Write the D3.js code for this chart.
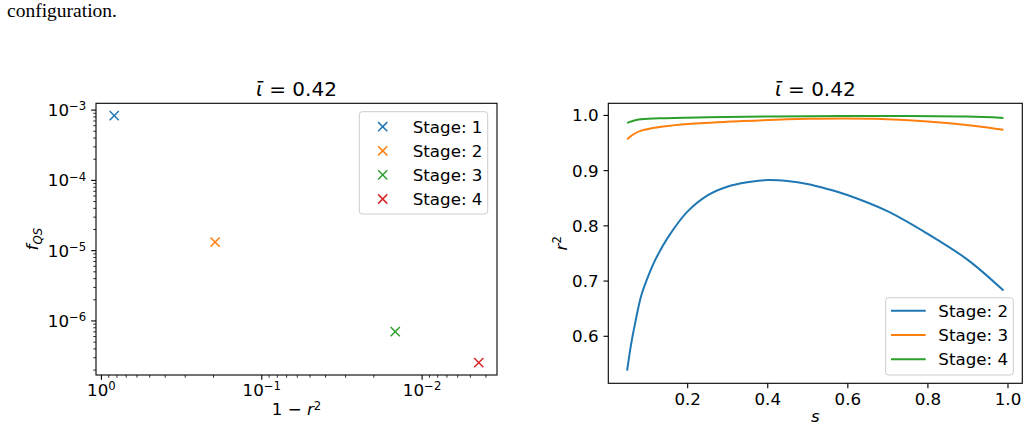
<!DOCTYPE html>
<html>
<head>
<meta charset="utf-8">
<script src="https://cdn.jsdelivr.net/npm/d3@7"></script>
<style>
body { margin: 0; background: #fff; }
svg text { font-family: "DejaVu Sans", sans-serif; fill: #000; }
</style>
</head>
<body>
<svg id="fig" width="1029" height="430"></svg>
<script>
// left panel: one point per stage
var stages = ["1", "2", "3", "4"];
var oneMinusR2 = [0.826, 0.194, 0.0146, 0.0044];
var fQS = [8.2e-4, 1.3e-5, 6.95e-7, 2.51e-7];

// right panel: r^2 against s
var lineStages = ["2", "3", "4"];
var sStage2 = [0.05, 0.06, 0.07, 0.085, 0.1, 0.12, 0.15, 0.2, 0.25, 0.3, 0.35, 0.4, 0.45, 0.5, 0.55, 0.6, 0.7, 0.8, 0.9, 0.99];
var r2Stage2 = [0.537, 0.585, 0.623, 0.672, 0.703, 0.737, 0.776, 0.8245, 0.854, 0.87, 0.878, 0.882, 0.8802, 0.875, 0.866, 0.855, 0.8258, 0.785, 0.738, 0.682];
var sStage3 = [0.05, 0.066, 0.087, 0.13, 0.21, 0.34, 0.5, 0.67, 0.8, 0.92, 0.99];
var r2Stage3 = [0.956, 0.965, 0.972, 0.978, 0.984, 0.989, 0.993, 0.993, 0.988, 0.98, 0.973];
var sStage4 = [0.05, 0.078, 0.13, 0.25, 0.5, 0.75, 0.9, 0.99];
var r2Stage4 = [0.9855, 0.9916, 0.994, 0.9958, 0.9976, 0.998, 0.997, 0.9946];

var xTickVals = [0.2, 0.4, 0.6, 0.8, 1.0];
var yTickVals = [0.6, 0.7, 0.8, 0.9, 1.0];

var svg = d3.select("svg#fig");
var color = d3.scaleOrdinal().domain(stages).range(d3.schemeCategory10);

var FS = 16.7, TICK = 4.86, MINOR = 2.78, PAD = 4.86;

svg.append("text")
    .attr("x", 7)
    .attr("y", 16.5)
    .style("font-family", "'Liberation Serif', serif")
    .style("font-size", "19.5px")
    .text("configuration.");

function pad(ext, log) {
    if (log) {
        var a = Math.log10(ext[0]), b = Math.log10(ext[1]), m = (b - a) * 0.05;
        return [Math.pow(10, a - m), Math.pow(10, b + m)];
    }
    var m2 = (ext[1] - ext[0]) * 0.05;
    return [ext[0] - m2, ext[1] + m2];
}

function isPow(v) {
    var l = Math.log10(v);
    return Math.abs(l - Math.round(l)) < 1e-9;
}

function powText(sel) {
    sel.each(function(d) {
        var e = Math.round(Math.log10(d));
        var t = d3.select(this).text("");
        t.append("tspan").text("10");
        t.append("tspan")
            .attr("dy", "-0.5em")
            .style("font-size", "0.7em")
            .text(e < 0 ? "\u2212" + -e : e);
    });
}

function styleAxis(g) {
    g.select(".domain").remove();
    g.attr("font-size", null).attr("font-family", null);
    g.selectAll("text").style("font-size", FS + "px");
    g.selectAll("line").attr("stroke-width", 1.1);
}

function title(cx, txt) {
    var t = svg.append("text")
        .attr("x", cx)
        .attr("y", 96)
        .attr("text-anchor", "middle")
        .style("font-size", "20px");
    t.append("tspan").style("font-style", "italic").text("\u1FD1");
    t.append("tspan").text(" = " + txt);
}

function legendBox(x0, y0, w, h) {
    svg.append("rect")
        .attr("x", x0)
        .attr("y", y0)
        .attr("width", w)
        .attr("height", h)
        .attr("rx", 3)
        .attr("fill", "white")
        .attr("fill-opacity", 0.8)
        .attr("stroke", "#cccccc")
        .attr("stroke-width", 1);
}

// ---------- left panel ----------
var L = { left: 96, right: 497, top: 103.3, bottom: 375 };

var xL = d3.scaleLog()
    .domain(pad(d3.extent(oneMinusR2), true).reverse())
    .range([L.left, L.right]);
var yL = d3.scaleLog()
    .domain(pad(d3.extent(fQS), true))
    .range([L.bottom, L.top]);

var xLt = xL.ticks(), yLt = yL.ticks();

var gxm = svg.append("g")
    .attr("transform", "translate(0," + L.bottom + ")")
    .call(d3.axisBottom(xL).tickValues(xLt.filter(v => !isPow(v))).tickSize(MINOR).tickFormat(""));
styleAxis(gxm);
gxm.selectAll("line").attr("stroke-width", 0.8);

var gx = svg.append("g")
    .attr("transform", "translate(0," + L.bottom + ")")
    .call(d3.axisBottom(xL).tickValues(xLt.filter(isPow)).tickSize(TICK).tickPadding(PAD));
styleAxis(gx);
gx.selectAll("text").attr("dy", "0.68em").call(powText);

var gym = svg.append("g")
    .attr("transform", "translate(" + L.left + ",0)")
    .call(d3.axisLeft(yL).tickValues(yLt.filter(v => !isPow(v))).tickSize(MINOR).tickFormat(""));
styleAxis(gym);
gym.selectAll("line").attr("stroke-width", 0.8);

var gy = svg.append("g")
    .attr("transform", "translate(" + L.left + ",0)")
    .call(d3.axisLeft(yL).tickValues(yLt.filter(isPow)).tickSize(TICK).tickPadding(PAD));
styleAxis(gy);
gy.selectAll("text").attr("dy", "0.36em").call(powText);

svg.append("rect")
    .attr("x", L.left)
    .attr("y", L.top)
    .attr("width", L.right - L.left)
    .attr("height", L.bottom - L.top)
    .attr("fill", "none")
    .attr("stroke", "black")
    .attr("stroke-width", 1.1);

var cross = "M-4.6,-4.6L4.6,4.6M-4.6,4.6L4.6,-4.6";

svg.append("g")
    .selectAll("path")
    .data(stages)
    .enter()
    .append("path")
    .attr("d", cross)
    .attr("transform", (d, i) => "translate(" + xL(oneMinusR2[i]) + "," + yL(fQS[i]) + ")")
    .attr("stroke", d => color(d))
    .attr("stroke-width", 1.5)
    .attr("fill", "none");

title((L.left + L.right) / 2, "0.42");

var xlab = svg.append("text")
    .attr("x", (L.left + L.right) / 2)
    .attr("y", 415)
    .attr("text-anchor", "middle")
    .style("font-size", FS + "px");
xlab.append("tspan").text("1 \u2212 ");
xlab.append("tspan").style("font-style", "italic").text("r");
xlab.append("tspan").attr("dy", "-0.45em").style("font-size", "0.7em").text("2");

var ylab = svg.append("text")
    .attr("transform", "translate(38," + (L.top + L.bottom) / 2 + ") rotate(-90)")
    .attr("text-anchor", "middle")
    .style("font-size", FS + "px");
ylab.append("tspan").style("font-style", "italic").text("f");
ylab.append("tspan").attr("dy", "0.3em").style("font-size", "0.7em").style("font-style", "italic").text("QS");

legendBox(359.3, 111.7, 128.4, 102.3);
var legL = svg.append("g")
    .selectAll("g")
    .data(stages)
    .enter()
    .append("g")
    .attr("transform", (d, i) => "translate(0," + (126.7 + i * 24.1) + ")");
legL.append("path")
    .attr("d", cross)
    .attr("transform", "translate(382.7,0)")
    .attr("stroke", d => color(d))
    .attr("stroke-width", 1.5)
    .attr("fill", "none");
legL.append("text")
    .attr("x", 412.7)
    .attr("dy", "0.36em")
    .style("font-size", FS + "px")
    .text(d => "Stage: " + d);

// ---------- right panel ----------
var R = { left: 608.3, right: 1022.3, top: 103.3, bottom: 383.3 };

var series = [
    { stage: "2", s: sStage2, r2: r2Stage2 },
    { stage: "3", s: sStage3, r2: r2Stage3 },
    { stage: "4", s: sStage4, r2: r2Stage4 }
];

var allS = sStage2.concat(sStage3, sStage4);
var allR = r2Stage2.concat(r2Stage3, r2Stage4);

var xR = d3.scaleLinear().domain(pad(d3.extent(allS), false)).range([R.left, R.right]);
var yR = d3.scaleLinear().domain(pad(d3.extent(allR), false)).range([R.bottom, R.top]);

var gxR = svg.append("g")
    .attr("transform", "translate(0," + R.bottom + ")")
    .call(d3.axisBottom(xR).tickValues(xTickVals).tickSize(TICK).tickPadding(PAD).tickFormat(d3.format(".1f")));
styleAxis(gxR);
gxR.selectAll("text").attr("dy", "0.74em");

var gyR = svg.append("g")
    .attr("transform", "translate(" + R.left + ",0)")
    .call(d3.axisLeft(yR).tickValues(yTickVals).tickSize(TICK).tickPadding(PAD).tickFormat(d3.format(".1f")));
styleAxis(gyR);
gyR.selectAll("text").attr("dy", "0.36em");

var line = d3.line()
    .x(d => xR(d[0]))
    .y(d => yR(d[1]))
    .curve(d3.curveCatmullRom.alpha(0.5));

svg.append("g")
    .selectAll("path")
    .data(series)
    .enter()
    .append("path")
    .attr("d", d => line(d.s.map((v, i) => [v, d.r2[i]])))
    .attr("fill", "none")
    .attr("stroke", (d, i) => d3.schemeCategory10[i])
    .attr("stroke-width", 2);

svg.append("rect")
    .attr("x", R.left)
    .attr("y", R.top)
    .attr("width", R.right - R.left)
    .attr("height", R.bottom - R.top)
    .attr("fill", "none")
    .attr("stroke", "black")
    .attr("stroke-width", 1.1);

title((R.left + R.right) / 2, "0.42");

svg.append("text")
    .attr("x", (R.left + R.right) / 2)
    .attr("y", 421.5)
    .attr("text-anchor", "middle")
    .style("font-size", FS + "px")
    .style("font-style", "italic")
    .text("s");

var ylabR = svg.append("text")
    .attr("transform", "translate(566.5," + (R.top + R.bottom) / 2 + ") rotate(-90)")
    .attr("text-anchor", "middle")
    .style("font-size", FS + "px");
ylabR.append("tspan").style("font-style", "italic").text("r");
ylabR.append("tspan").attr("dy", "-0.45em").style("font-size", "0.7em").text("2");

legendBox(885.7, 297.7, 127.6, 77.3);
var legR = svg.append("g")
    .selectAll("g")
    .data(lineStages)
    .enter()
    .append("g")
    .attr("transform", (d, i) => "translate(0," + (310.7 + i * 24.3) + ")");
legR.append("line")
    .attr("x1", 891)
    .attr("x2", 925.7)
    .attr("stroke", (d, i) => d3.schemeCategory10[i])
    .attr("stroke-width", 2);
legR.append("text")
    .attr("x", 938.3)
    .attr("dy", "0.36em")
    .style("font-size", FS + "px")
    .text(d => "Stage: " + d);
</script>
</body>
</html>
